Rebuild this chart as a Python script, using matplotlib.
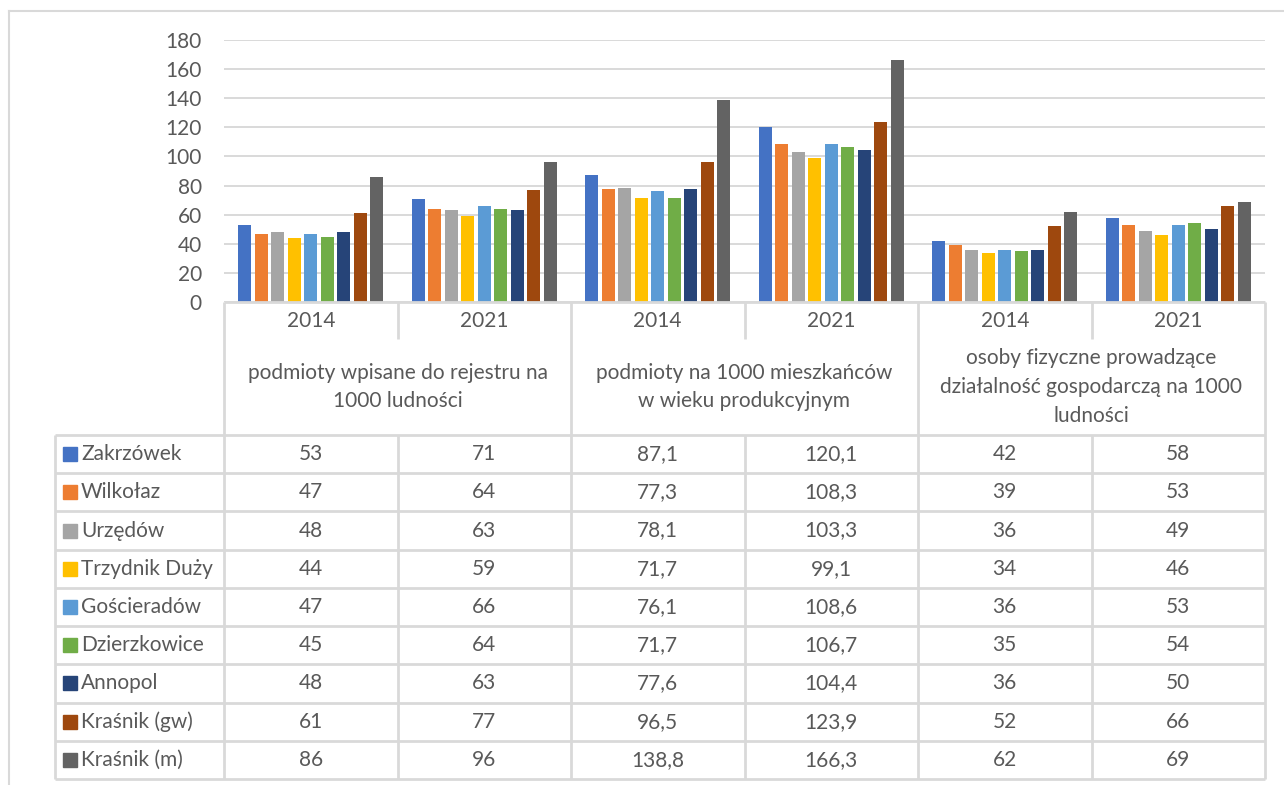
import matplotlib
matplotlib.use("Agg")
import matplotlib.pyplot as plt
from matplotlib import transforms
from matplotlib.lines import Line2D
from matplotlib.patches import Rectangle

# ---------------- data ----------------
years = ["2014", "2021", "2014", "2021", "2014", "2021"]
groups = ["podmioty wpisane do rejestru na\n1000 ludności",
          "podmioty na 1000 mieszkańców\nw wieku produkcyjnym",
          "osoby fizyczne prowadzące\ndziałalność gospodarczą na 1000\nludności"]
names = ["Zakrzówek", "Wilkołaz", "Urzędów", "Trzydnik Duży", "Gościeradów",
         "Dzierzkowice", "Annopol", "Kraśnik (gw)", "Kraśnik (m)"]
zakrzowek = [53, 71, 87.1, 120.1, 42, 58]
wilkolaz = [47, 64, 77.3, 108.3, 39, 53]
urzedow = [48, 63, 78.1, 103.3, 36, 49]
trzydnik = [44, 59, 71.7, 99.1, 34, 46]
goscieradow = [47, 66, 76.1, 108.6, 36, 53]
dzierzkowice = [45, 64, 71.7, 106.7, 35, 54]
annopol = [48, 63, 77.6, 104.4, 36, 50]
krasnik_gw = [61, 77, 96.5, 123.9, 52, 66]
krasnik_m = [86, 96, 138.8, 166.3, 62, 69]
series = [zakrzowek, wilkolaz, urzedow, trzydnik, goscieradow,
          dzierzkowice, annopol, krasnik_gw, krasnik_m]
colors = ["#4472C4", "#ED7D31", "#A5A5A5", "#FFC000", "#5B9BD5",
          "#70AD47", "#264478", "#9E480E", "#636363"]

# ---------------- figure ----------------
W, H = 1284, 785
plt.rcParams['font.family'] = ['Lato', 'DejaVu Sans']
txt = "#595959"
grid = "#d9d9d9"
fs = 15
fig = plt.figure(figsize=(W / 100, H / 100), dpi=100)

def fy(py):
    return 1 - py / H

ax = fig.add_axes([224 / W, fy(302), (1265 - 224) / W, (302 - 40) / H])
ax.set_xlim(0, 6)
ax.set_ylim(0, 180)

pitch = 0.095
bw = 0.075
for i, vals in enumerate(series):
    xs = [c + 0.5 + (i - 4) * pitch for c in range(6)]
    ax.bar(xs, vals, width=bw, color=colors[i], zorder=3)

ax.set_yticks(range(0, 181, 20))
ax.yaxis.grid(True, color=grid, lw=1.4)
ax.set_axisbelow(True)
ax.set_xticks([])
for s in ax.spines.values():
    s.set_visible(False)
ax.tick_params(axis="y", length=0, pad=16, labelsize=fs, labelcolor=txt)

# ---------------- table ----------------
bl = transforms.blended_transform_factory(ax.transData, fig.transFigure)

def hline(x0, x1, py):
    fig.add_artist(Line2D([x0, x1], [fy(py), fy(py)], transform=bl,
                          color=grid, lw=2, solid_capstyle="butt"))

def vline(x, py0, py1):
    fig.add_artist(Line2D([x, x], [fy(py0), fy(py1)], transform=bl,
                          color=grid, lw=2, solid_capstyle="butt"))

leg_x = -0.975
row_top = 435
row_h = (779 - 435) / 9

hline(0, 6, 302)
hline(leg_x, 6, row_top)
for r in range(1, 10):
    hline(leg_x, 6, row_top + r * row_h)
vline(leg_x, row_top, 779)
for c in [0, 2, 4, 6]:
    vline(c, 302, 779)
for c in [1, 3, 5]:
    vline(c, 302, 339)
    vline(c, row_top, 779)

for c, y in enumerate(years):
    fig.text(c + 0.5, fy(321), y, transform=bl, ha="center", va="center",
             fontsize=fs, color=txt)
for g, lab in enumerate(groups):
    fig.text(2 * g + 1, fy(387), lab, transform=bl, ha="center", va="center",
             fontsize=fs, color=txt, linespacing=1.55)

for r, (nm, vals) in enumerate(zip(names, series)):
    yc = row_top + (r + 0.5) * row_h
    fig.add_artist(Rectangle((63 / W, fy(yc + 7)), 14 / W, 14 / H,
                             transform=fig.transFigure, color=colors[r]))
    fig.text(81 / W, fy(yc), nm, ha="left", va="center",
             fontsize=fs, color=txt)
    for c, v in enumerate(vals):
        fig.text(c + 0.5, fy(yc), f"{v:g}".replace(".", ","), transform=bl,
                 ha="center", va="center", fontsize=fs, color=txt)

# outer chart border
fig.add_artist(Line2D([9 / W, 1], [fy(11), fy(11)], color=grid, lw=1.5))
fig.add_artist(Line2D([9 / W, 9 / W], [fy(11), 0], color=grid, lw=1.5))

fig.savefig("out.png", dpi=100, facecolor="white")
